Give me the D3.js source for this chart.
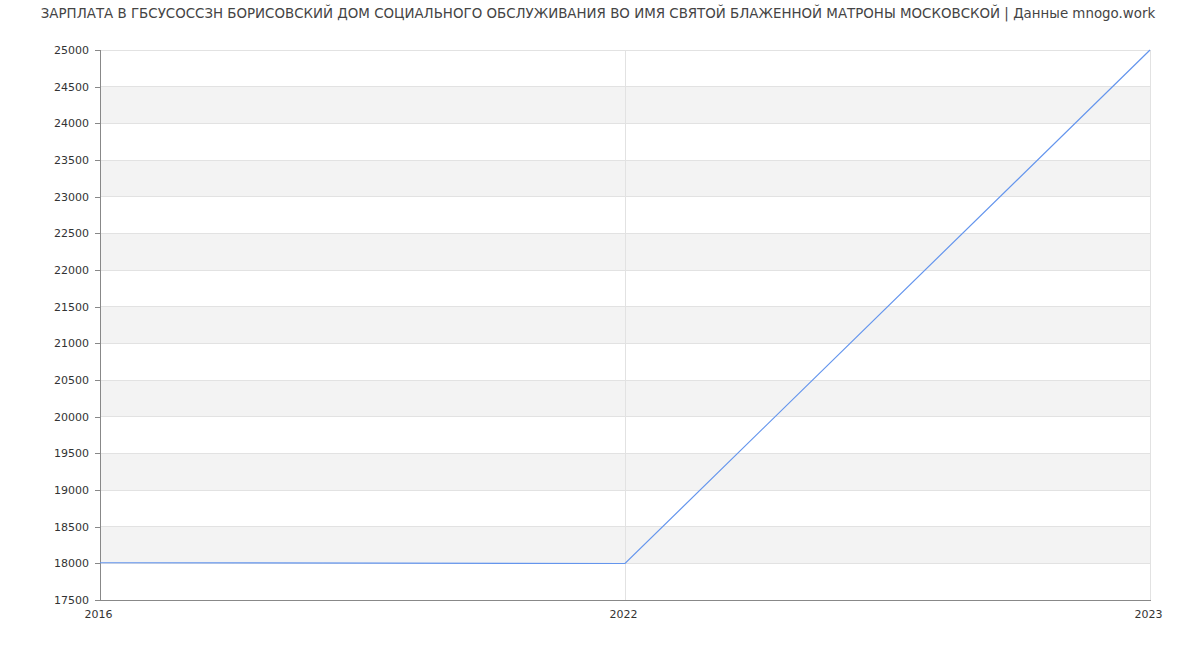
<!DOCTYPE html>
<html><head><meta charset="utf-8">
<script src="https://cdn.jsdelivr.net/npm/d3@7"></script>
<style>body{margin:0;background:#fff;font-family:"DejaVu Sans",sans-serif;}</style>
</head><body><svg id="c" width="1200" height="650"></svg>
<script>
const title = "ЗАРПЛАТА В ГБСУСОССЗН БОРИСОВСКИЙ ДОМ СОЦИАЛЬНОГО ОБСЛУЖИВАНИЯ ВО ИМЯ СВЯТОЙ БЛАЖЕННОЙ МАТРОНЫ МОСКОВСКОЙ | Данные mnogo.work";
const years = ["2016", "2022", "2023"];
const salaries = [18008, 17998, 25000];
const yTicks = d3.range(17500, 25001, 500);

const svg = d3.select("#c");
const m = {l:100, r:50, t:50, b:50};
const W = 1200, H = 650;
const x = d3.scalePoint().domain(years).range([m.l, W - m.r]);
const y = d3.scaleLinear().domain([17500, 25000]).range([H - m.b, m.t]);

// bands
const bands = yTicks.slice(0, -1).map((v, i) => ({lo: v, hi: v + 500, i}));
svg.append("g").selectAll("rect").data(bands.filter(b => b.i % 2 === 1)).join("rect")
  .attr("x", m.l).attr("width", W - m.r - m.l)
  .attr("y", d => y(d.hi)).attr("height", d => y(d.lo) - y(d.hi))
  .attr("fill", "#f3f3f3");

// horizontal grid
svg.append("g").selectAll("line").data(yTicks).join("line")
  .attr("x1", m.l).attr("x2", W - m.r)
  .attr("y1", d => y(d)).attr("y2", d => y(d))
  .attr("stroke", "#e2e2e2").attr("stroke-width", 1).attr("shape-rendering", "crispEdges");
// vertical grid
svg.append("g").selectAll("line").data(years).join("line")
  .attr("x1", d => x(d)).attr("x2", d => x(d))
  .attr("y1", m.t).attr("y2", H - m.b)
  .attr("stroke", "#e2e2e2").attr("stroke-width", 1).attr("shape-rendering", "crispEdges");

// y axis
const ya = svg.append("g").attr("transform", `translate(${m.l},0)`)
  .call(d3.axisLeft(y).tickValues(yTicks).tickSize(5).tickPadding(6).tickFormat(d3.format("d")));
ya.select(".domain").attr("stroke", "#888").attr("shape-rendering", "crispEdges");
ya.selectAll(".tick line").attr("stroke", "#888").attr("shape-rendering", "crispEdges");
ya.selectAll("text").attr("fill", "#333").style("font-size", "11px").style("font-family", "DejaVu Sans");

// x axis
const xa = svg.append("g").attr("transform", `translate(0,${H - m.b})`)
  .call(d3.axisBottom(x).tickSize(0).tickPadding(10));
xa.select(".domain").attr("stroke", "#888").attr("shape-rendering", "crispEdges");
xa.selectAll("text").attr("fill", "#333").attr("dx", "-2").style("font-size", "11px").style("font-family", "DejaVu Sans");

// line
const line = d3.line().x((d, i) => x(years[i])).y(d => y(d));
svg.append("path").datum(salaries).attr("d", line)
  .attr("fill", "none").attr("stroke", "#6495ed").attr("stroke-width", 1.2);

// title
svg.append("text").attr("x", 598).attr("y", 18).attr("text-anchor", "middle")
  .attr("fill", "#444").style("font-size", "13.4px").style("font-family", "DejaVu Sans")
  .text(title);
</script></body></html>
